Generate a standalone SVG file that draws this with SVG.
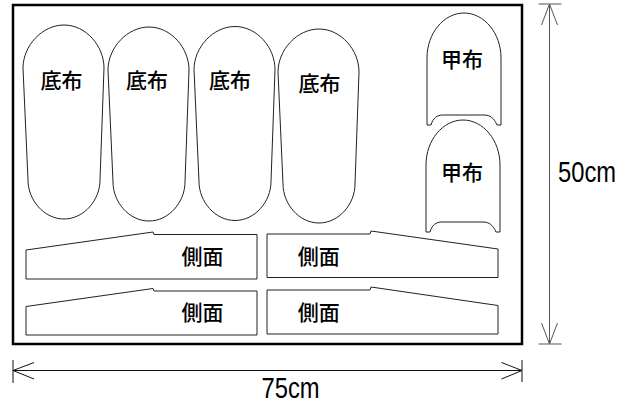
<svg xmlns="http://www.w3.org/2000/svg" xmlns:xlink="http://www.w3.org/1999/xlink" width="631" height="403" viewBox="0 0 631 403">
<style>
.piece{fill:#fff;stroke:#222;stroke-width:1}
.frame{fill:#fff;stroke:#000;stroke-width:2.5}
.lbl{font-family:"Noto Sans CJK JP","Noto Sans CJK SC",sans-serif;font-size:21px;font-weight:500;fill:#000;text-anchor:middle}
.dim{font-family:"Liberation Sans",Arial,sans-serif;font-size:30px;fill:#000}
.dline{fill:none;stroke:#555;stroke-width:1}
.hline{fill:none;stroke:#111;stroke-width:1}
</style>
<defs>
<path id="sole" d="M 23,68 C 23,46 42,25 64,25 C 86,25 104,46 104,68 L 100,180 C 100,200 84,219 64,219 C 44,219 28,200 28,180 Z"/>
<path id="upper" d="M 427,125 L 427,58 C 427,33 444,13 464,13 C 484,13 501,33 501,58 L 501,125 L 497,125 C 494,118 490,115 484,115 L 443,115 C 437,115 433,118 431,125 Z"/>
</defs>
<rect id="cloth" class="frame" x="13" y="5" width="509" height="339"/>
<g id="sole1"><use xlink:href="#sole" class="piece"/><text class="lbl" x="61.5" y="88">底布</text></g>
<g id="sole2"><use xlink:href="#sole" class="piece" transform="translate(85,2)"/><text class="lbl" x="147" y="88">底布</text></g>
<g id="sole3"><use xlink:href="#sole" class="piece" transform="translate(171,1.5)"/><text class="lbl" x="230" y="88">底布</text></g>
<g id="sole4"><use xlink:href="#sole" class="piece" transform="translate(255,4)"/><text class="lbl" x="319.5" y="90.5">底布</text></g>
<g id="upper1"><use xlink:href="#upper" class="piece"/><text class="lbl" x="462" y="66.5">甲布</text></g>
<g id="upper2"><use xlink:href="#upper" class="piece" transform="translate(-1,107)"/><text class="lbl" x="462" y="180">甲布</text></g>
<g id="side1"><path class="piece" d="M 26,250 L 153,232 L 154,234.5 L 257,234.5 L 257,279 L 26,279 Z"/><text class="lbl" x="202.5" y="264">側面</text></g>
<g id="side2"><path class="piece" d="M 267,234 L 370,234 L 371,231 L 498,249 L 498,277.5 L 267,277.5 Z"/><text class="lbl" x="318.7" y="263.5">側面</text></g>
<g id="side3"><path class="piece" d="M 26,306.5 L 153,288.5 L 154,291 L 257,291 L 257,335 L 26,335 Z"/><text class="lbl" x="202.5" y="320">側面</text></g>
<g id="side4"><path class="piece" d="M 267,290 L 370,290 L 371,287 L 498,305.5 L 498,334 L 267,334 Z"/><text class="lbl" x="318.7" y="320">側面</text></g>
<g id="connectors">
<path class="dline" d="M 549.5,4 L 549.5,344 M 538.5,4 L 561.5,4 M 538.5,344 L 561.5,344 M 541.5,25 L 549.5,4 L 557.5,25 M 541.5,323 L 549.5,344 L 557.5,323"/>
<path class="hline" d="M 13,370.5 L 522,370.5 M 13,360 L 13,383 M 522,360 L 522,382 M 34,362.5 L 13,370.5 L 34,379 M 501.5,362.5 L 522,370.5 L 501.5,379"/>
</g>
<g id="dims">
<text class="dim" x="558" y="182" textLength="58" lengthAdjust="spacingAndGlyphs">50cm</text>
<text class="dim" x="261.5" y="398" textLength="58" lengthAdjust="spacingAndGlyphs">75cm</text>
</g>
</svg>
